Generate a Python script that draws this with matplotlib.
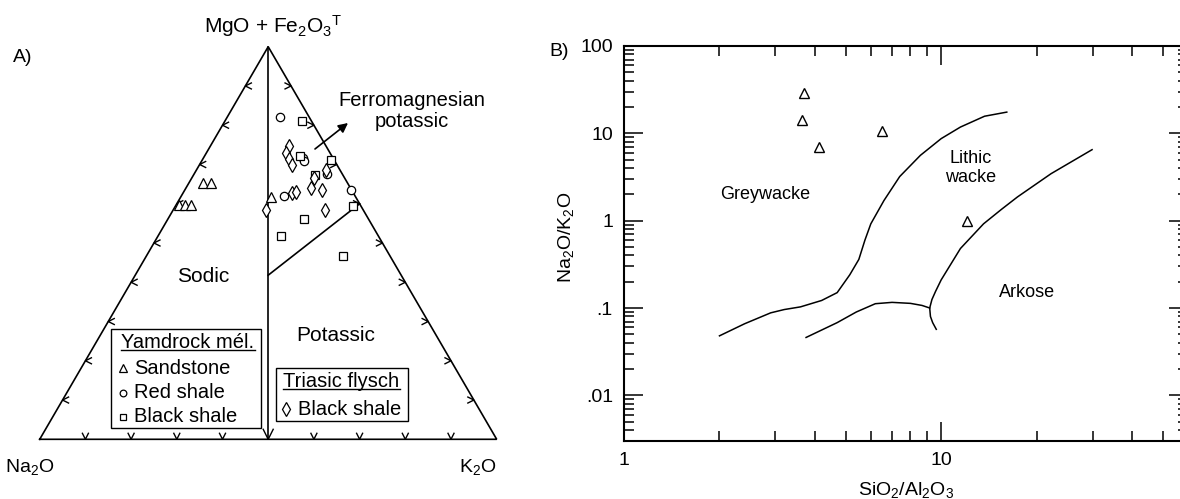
import numpy as np
import matplotlib
matplotlib.use('Agg')
import matplotlib.pyplot as plt
from matplotlib.patches import Rectangle
from matplotlib.ticker import FixedLocator, FixedFormatter, LogLocator, NullFormatter

plt.rcParams['font.family'] = 'Liberation Sans'
plt.rcParams['mathtext.fontset'] = 'custom'
plt.rcParams['mathtext.rm'] = 'Liberation Sans'
plt.rcParams['mathtext.it'] = 'Liberation Sans:italic'
plt.rcParams['mathtext.bf'] = 'Liberation Sans:bold'

# ---------------- A) ternary data: K2O %, MgO+Fe2O3T % (Na2O is the rest)
sandstone_k = [19.8, 3.1, 4.7, 0.6, 1.9, 3.2]
sandstone_m = [61.6, 65.4, 65.4, 59.7, 59.7, 59.7]

red_shale_k = [11.5, 21.8, 22.4, 29.2, 22.5, 36.4]
red_shale_m = [82.2, 71.6, 71.0, 67.5, 62.0, 63.4]

black_shale_k = [16.8, 20.9, 28.2, 26.7, 38.7, 29.7, 26.9, 43.1]
black_shale_m = [81.1, 72.2, 71.1, 67.3, 59.5, 56.2, 51.8, 46.7]

flysch_k = [17.3, 17.6, 18.8, 20.2, 28.4, 26.7, 27.4, 30.0, 23.7, 24.5, 20.2, 33.1]
flysch_m = [74.6, 72.8, 71.3, 69.9, 68.6, 66.5, 64.1, 63.4, 62.8, 63.1, 58.5, 58.5]

# ferromagnesian potassic boundary (from Na2O = K2O line to the K2O edge)
ferro_line_k = [29.1, 40.0]
ferro_line_m = [41.8, 60.0]

# ---------------- B) SiO2/Al2O3 vs Na2O/K2O
b_sio2_al2o3 = [3.69, 3.63, 4.13, 6.53, 12.1]
b_na2o_k2o = [29.0, 14.3, 7.0, 10.6, 0.99]

grey_lithic_x = [2.0, 2.4, 2.9, 3.2, 3.6, 4.2, 4.7, 5.15, 5.5, 5.75, 6.0, 6.6, 7.4, 8.6, 10.0, 11.5, 13.7, 16.1]
grey_lithic_y = [0.048, 0.066, 0.088, 0.096, 0.103, 0.122, 0.15, 0.24, 0.36, 0.6, 0.92, 1.7, 3.2, 5.6, 8.7, 11.8, 15.7, 17.5]

lithic_arkose_x = [9.65, 9.4, 9.25, 9.2, 9.35, 9.6, 10.0, 11.5, 13.6, 15.5, 17.4, 22.2, 29.9]
lithic_arkose_y = [0.057, 0.068, 0.08, 0.1, 0.125, 0.155, 0.21, 0.48, 0.92, 1.35, 1.87, 3.45, 6.5]

lower_branch_x = [3.75, 4.7, 5.4, 6.2, 7.0, 8.0, 8.7, 9.2]
lower_branch_y = [0.046, 0.068, 0.09, 0.112, 0.116, 0.113, 0.107, 0.1]

W, Hpx = 1180, 499
H = np.sqrt(3) / 2


def tern(k, m):
    k = np.asarray(k, float) / 100.0
    m = np.asarray(m, float) / 100.0
    return k + m / 2.0, m * H


fig = plt.figure(figsize=(W / 100, Hpx / 100), dpi=100)
fig.patch.set_facecolor('white')

# ======================= A) ternary
axA = fig.add_axes([39.7 / W, 1 - 439.3 / Hpx, 457 / W, 392.6 / Hpx])
axA.set_xlim(0, 1)
axA.set_ylim(0, H)
axA.axis('off')

lw = 1.2
axA.plot([0, 1, 0.5, 0], [0, 0, H, 0], color='black', lw=lw, clip_on=False,
         solid_joinstyle='miter')
axA.plot([0.5, 0.5], [0, H], color='black', lw=lw, clip_on=False)
fx, fy = tern(ferro_line_k, ferro_line_m)
axA.plot(fx, fy, color='black', lw=lw, clip_on=False)

# pixel -> data units
px_x = 1 / 457.0
px_y = H / 392.6

# chevron ticks every 10 %
for i in range(1, 10):
    f = i / 10.0
    if i == 5:
        sx, sy = 5, 10
    else:
        sx, sy = 3, 6
    axA.plot([f - sx * px_x, f, f + sx * px_x], [sy * px_y, 0, sy * px_y],
             color='black', lw=1.0, clip_on=False)
    xl, yl = f * 0.5, f * H
    axA.plot([xl + 6 * px_x, xl, xl + 6 * px_x],
             [yl + 3 * px_y, yl, yl - 3 * px_y], color='black', lw=1.0, clip_on=False)
    xr, yr = 1 - f * 0.5, f * H
    axA.plot([xr - 6 * px_x, xr, xr - 6 * px_x],
             [yr + 3 * px_y, yr, yr - 3 * px_y], color='black', lw=1.0, clip_on=False)

mk = dict(linestyle='none', markerfacecolor='white', markeredgecolor='black',
          markeredgewidth=0.9, clip_on=False)
x, y = tern(sandstone_k, sandstone_m)
axA.plot(x, y, marker='^', markersize=6.5, **mk)
x, y = tern(red_shale_k, red_shale_m)
axA.plot(x, y, marker='o', markersize=6, **mk)
x, y = tern(black_shale_k, black_shale_m)
axA.plot(x, y, marker='s', markersize=5.5, **mk)
x, y = tern(flysch_k, flysch_m)
axA.plot(x, y, marker='d', markersize=7, **mk)

fs_big = 15
axA.text(0.357, 0.360, 'Sodic', fontsize=fs_big, ha='center', va='center')
axA.text(0.647, 0.230, 'Potassic', fontsize=fs_big, ha='center', va='center')
axA.text(0.815, 0.724, 'Ferromagnesian\npotassic', fontsize=14.5,
         ha='center', va='center', multialignment='center', linespacing=1.1)
axA.annotate('', xy=(0.6746, 0.6977), xytext=(0.6024, 0.6404),
             arrowprops=dict(arrowstyle='-|>', color='black', lw=1.2,
                             mutation_scale=14, shrinkA=0, shrinkB=0))

# legend boxes
fs_leg = 14.5
axA.add_patch(Rectangle((0.155, 0.0243), 0.3286, 0.2183, facecolor='white',
                        edgecolor='black', lw=1.0, zorder=3, clip_on=False))
axA.text(0.177, 0.2131, 'Yamdrock mél.', fontsize=fs_leg, ha='left', va='center', zorder=4)
axA.plot([0.177, 0.471], [0.1966, 0.1966], color='black', lw=1.0, zorder=4, clip_on=False)
leg_rows = [('^', 6.5, 'Sandstone', 0.1566), ('o', 6, 'Red shale', 0.1028),
            ('s', 5.5, 'Black shale', 0.0499)]
for m, ms, lab, yy in leg_rows:
    axA.plot([0.183], [yy], marker=m, markersize=ms * 0.8, zorder=5, **mk)
    axA.text(0.207, yy, lab, fontsize=fs_leg, ha='left', va='center', zorder=4)

axA.add_patch(Rectangle((0.517, 0.041), 0.288, 0.1156, facecolor='white',
                        edgecolor='black', lw=1.0, zorder=3, clip_on=False))
axA.text(0.533, 0.127, 'Triasic flysch', fontsize=fs_leg, ha='left', va='center', zorder=4)
axA.plot([0.533, 0.788], [0.110, 0.110], color='black', lw=1.0, zorder=4, clip_on=False)
axA.plot([0.540], [0.0662], marker='d', markersize=7, zorder=5, **mk)
axA.text(0.566, 0.0662, 'Black shale', fontsize=fs_leg, ha='left', va='center', zorder=4)

fig.text(273 / W, 1 - 26 / Hpx, r'MgO + Fe$_2$O$_3$$^{\mathrm{T}}$', fontsize=15,
         ha='center', va='center')
fig.text(30 / W, 1 - 467 / Hpx, r'Na$_2$O', fontsize=14, ha='center', va='center')
fig.text(478 / W, 1 - 467 / Hpx, r'K$_2$O', fontsize=14, ha='center', va='center')
fig.text(23 / W, 1 - 57 / Hpx, 'A)', fontsize=14, ha='center', va='center')
fig.text(569 / W, 1 - 52 / Hpx, 'B)', fontsize=14, ha='right', va='center')

# ======================= B) log-log classification
axB = fig.add_axes([624 / W, 1 - 441 / Hpx, 564 / W, 395 / Hpx])
axB.set_xscale('log')
axB.set_yscale('log')
axB.set_xlim(1, 60)
axB.set_ylim(0.003, 100)

axB.plot(grey_lithic_x, grey_lithic_y, color='black', lw=1.1)
axB.plot(lithic_arkose_x, lithic_arkose_y, color='black', lw=1.1)
axB.plot(lower_branch_x, lower_branch_y, color='black', lw=1.1)
axB.plot(b_sio2_al2o3, b_na2o_k2o, marker='^', markersize=7, linestyle='none',
         markerfacecolor='white', markeredgecolor='black', markeredgewidth=1.0)

axB.text(2.79, 1.99, 'Greywacke', fontsize=13, ha='center', va='center')
axB.text(12.4, 4.0, 'Lithic\nwacke', fontsize=13, ha='center', va='center',
         multialignment='center', linespacing=1.1)
axB.text(18.6, 0.15, 'Arkose', fontsize=13, ha='center', va='center')

axB.xaxis.set_major_locator(FixedLocator([1, 10]))
axB.xaxis.set_major_formatter(FixedFormatter(['1', '10']))
axB.xaxis.set_minor_locator(LogLocator(base=10, subs=np.arange(2, 10)))
axB.xaxis.set_minor_formatter(NullFormatter())
axB.yaxis.set_major_locator(FixedLocator([0.01, 0.1, 1, 10, 100]))
axB.yaxis.set_major_formatter(FixedFormatter(['.01', '.1', '1', '10', '100']))
axB.yaxis.set_minor_locator(LogLocator(base=10, subs=np.arange(2, 10), numticks=20))
axB.yaxis.set_minor_formatter(NullFormatter())

axB.tick_params(which='both', direction='in', top=True, right=True,
                labelsize=14, width=1.1, color='black')
axB.tick_params(which='major', length=14, pad=8)
axB.tick_params(which='minor', length=7)
for sp in axB.spines.values():
    sp.set_linewidth(1.5)

axB.set_xlabel(r'SiO$_2$/Al$_2$O$_3$', fontsize=14)
axB.xaxis.set_label_coords(0.5, -0.1)
axB.set_ylabel(r'Na$_2$O/K$_2$O', fontsize=14)
axB.yaxis.set_label_coords(-0.085, 0.515)

fig.savefig('out.png', dpi=100, facecolor='white')
